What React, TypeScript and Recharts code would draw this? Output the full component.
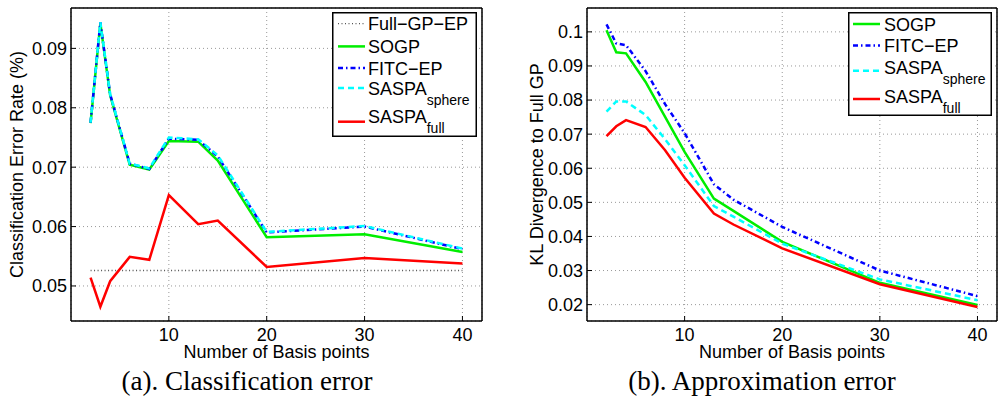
import React from 'react'
import { LineChart, Line, XAxis, YAxis, CartesianGrid, Legend } from 'recharts'

// x values (number of basis points)
const basisPoints = [2, 3, 4, 6, 8, 10, 13, 15, 20, 30, 40]
const xTicks = [10, 20, 30, 40]

// (a) classification error
const fullGpA = [0.0526, 0.0526, 0.0526, 0.0526, 0.0526, 0.0526, 0.0526, 0.0526, 0.0526, 0.0526, 0.0526]
const sogpA = [0.0774, 0.0942, 0.0821, 0.0704, 0.0696, 0.0744, 0.0743, 0.0711, 0.0582, 0.0587, 0.0557]
const fitcA = [0.0775, 0.0944, 0.0823, 0.0706, 0.0697, 0.0748, 0.0746, 0.0718, 0.059, 0.06, 0.0562]
const sphereA = [0.0775, 0.0944, 0.0823, 0.0706, 0.0698, 0.075, 0.0747, 0.072, 0.0591, 0.0601, 0.0563]
const saspaFullA = [0.0514, 0.0465, 0.0508, 0.0549, 0.0544, 0.0653, 0.0604, 0.061, 0.0532, 0.0547, 0.0538]
const yTicksA = [0.05, 0.06, 0.07, 0.08, 0.09]

// (b) approximation error
const sogpB = [0.1005, 0.094, 0.0937, 0.0853, 0.0751, 0.0648, 0.0511, 0.0475, 0.0384, 0.0264, 0.0199]
const fitcB = [0.1022, 0.0966, 0.0961, 0.0885, 0.0788, 0.0703, 0.0553, 0.0508, 0.0428, 0.03, 0.0225]
const sphereB = [0.0766, 0.0796, 0.0796, 0.0756, 0.0685, 0.0609, 0.0489, 0.0458, 0.0379, 0.0274, 0.0213]
const saspaFullB = [0.0694, 0.0723, 0.0741, 0.0721, 0.0653, 0.0572, 0.0467, 0.0435, 0.0365, 0.026, 0.0193]
const yTicksB = [0.02, 0.03, 0.04, 0.05, 0.06, 0.07, 0.08, 0.09, 0.1]

const dataA = basisPoints.map((x, i) => ({
  x,
  fullGp: fullGpA[i],
  sogp: sogpA[i],
  fitc: fitcA[i],
  sphere: sphereA[i],
  saspaFull: saspaFullA[i],
}))

const dataB = basisPoints.map((x, i) => ({
  x,
  sogp: sogpB[i],
  fitc: fitcB[i],
  sphere: sphereB[i],
  saspaFull: saspaFullB[i],
}))

const FONT = '"Liberation Sans", Arial, Helvetica, sans-serif'

type SeriesStyle = {
  key: string
  name: string
  sub?: string
  color: string
  dash?: string
  width: number
}

const STYLES: Record<string, SeriesStyle> = {
  fullGp: { key: 'fullGp', name: 'Full\u2212GP\u2212EP', color: '#555', dash: '1 2.5', width: 1.3 },
  sogp: { key: 'sogp', name: 'SOGP', color: '#00ee00', width: 2.5 },
  fitc: { key: 'fitc', name: 'FITC\u2212EP', color: '#0000ff', dash: '5 3 1.5 3', width: 2.5 },
  sphere: { key: 'sphere', name: 'SASPA', sub: 'sphere', color: '#00ffff', dash: '6 4', width: 2.5 },
  saspaFull: { key: 'saspaFull', name: 'SASPA', sub: 'full', color: '#ff0000', width: 2.5 },
}

type Row = { s: SeriesStyle; lineY: number; textY: number }

function LegendBox({ rows, width, height, lineX1, lineX2, textX }: {
  rows: Row[]; width: number; height: number; lineX1: number; lineX2: number; textX: number
}) {
  return (
    <svg width={width} height={height} style={{ display: 'block' }}>
      <rect x={0.75} y={0.75} width={width - 1.5} height={height - 1.5} fill="#fff" stroke="#000" strokeWidth={1.5} />
      {rows.map((r, i) => (
        <g key={i}>
          <line x1={lineX1} x2={lineX2} y1={r.lineY} y2={r.lineY} stroke={r.s.color}
            strokeWidth={r.s.width} strokeDasharray={r.s.dash} />
          <text x={textX} y={r.textY + 6.5} fontSize={18} fontFamily={FONT} fill="#000">
            {r.s.name}
            {r.s.sub && <tspan fontSize={14} dy={10}>{r.s.sub}</tspan>}
          </text>
        </g>
      ))}
    </svg>
  )
}

const fmt = (v: number) => String(Number(v.toFixed(2)))
const tickStyle = { fontSize: 18, fill: '#000', fontFamily: FONT }
const axisLineStyle = { stroke: '#000', strokeWidth: 1.5 }

function yLabel(text: string, x: number) {
  return {
    content: () => (
      <text x={x} y={164.5} transform={`rotate(-90 ${x} 164.5)`} textAnchor="middle"
        dominantBaseline="central" fontSize={18} fontFamily={FONT} fill="#000">{text}</text>
    ),
  }
}

function Panel({ data, series, yDomain, yTicks, yAxisWidth, marginRight, yLabelText, yLabelX, legendRows, legendBox, width }: any) {
  return (
    <LineChart width={width} height={361} data={data} margin={{ top: 8, right: marginRight, left: 0, bottom: 0 }}>
      <CartesianGrid stroke="#999" strokeDasharray="1 3" />
      <XAxis dataKey="x" type="number" domain={[0, 42]} ticks={xTicks} height={40}
        tickSize={-5} tickMargin={12} tick={tickStyle} axisLine={axisLineStyle}
        tickLine={{ stroke: '#000', strokeWidth: 1 }}
        label={{ value: 'Number of Basis points', position: 'insideBottom', offset: 3, fontSize: 18, fill: '#000', fontFamily: FONT }} />
      <XAxis xAxisId="top" dataKey="x" type="number" domain={[0, 42]} ticks={xTicks} orientation="top" mirror
        tick={false} tickSize={5} axisLine={axisLineStyle} tickLine={{ stroke: '#000', strokeWidth: 1 }} />
      <YAxis type="number" domain={yDomain} ticks={yTicks} width={yAxisWidth} tickSize={-5} tickMargin={9}
        tick={tickStyle} tickFormatter={fmt} axisLine={axisLineStyle} tickLine={{ stroke: '#000', strokeWidth: 1 }}
        label={yLabel(yLabelText, yLabelX)} />
      <YAxis yAxisId="right" type="number" domain={yDomain} ticks={yTicks} orientation="right" mirror
        tick={false} tickSize={5} axisLine={axisLineStyle} tickLine={{ stroke: '#000', strokeWidth: 1 }} />
      {series.map((s: SeriesStyle) => (
        <Line key={s.key} type="linear" dataKey={s.key} name={s.name} stroke={s.color} strokeWidth={s.width}
          strokeDasharray={s.dash} dot={false} activeDot={false} isAnimationActive={false} />
      ))}
      <Legend layout="vertical" align="center" verticalAlign="middle"
        wrapperStyle={{ left: legendBox.left, top: legendBox.top, width: legendBox.width, height: legendBox.height }}
        content={() => (
          <LegendBox rows={legendRows} width={legendBox.width} height={legendBox.height}
            lineX1={legendBox.lineX1} lineX2={legendBox.lineX2} textX={legendBox.textX} />
        )} />
    </LineChart>
  )
}

const captionStyle: React.CSSProperties = {
  position: 'absolute', top: 367, width: 500, textAlign: 'center',
  fontFamily: '"Liberation Serif", "Times New Roman", serif', fontSize: 27, lineHeight: '28px', color: '#000',
}

export default function App() {
  const seriesA = [STYLES.fullGp, STYLES.sogp, STYLES.fitc, STYLES.sphere, STYLES.saspaFull]
  const seriesB = [STYLES.sogp, STYLES.fitc, STYLES.sphere, STYLES.saspaFull]
  const rowsA: Row[] = [
    { s: STYLES.fullGp, lineY: 11.7, textY: 11.7 },
    { s: STYLES.sogp, lineY: 34.4, textY: 34.4 },
    { s: STYLES.fitc, lineY: 56, textY: 56 },
    { s: STYLES.sphere, lineY: 76, textY: 76.5 },
    { s: STYLES.saspaFull, lineY: 109.7, textY: 104.4 },
  ]
  const rowsB: Row[] = [
    { s: STYLES.sogp, lineY: 12, textY: 12 },
    { s: STYLES.fitc, lineY: 33.4, textY: 33.4 },
    { s: STYLES.sphere, lineY: 58.7, textY: 55.4 },
    { s: STYLES.saspaFull, lineY: 87, textY: 84.4 },
  ]
  return (
    <div style={{ position: 'absolute', left: 0, top: 0, width: 1001, height: 403, background: '#fff', fontFamily: FONT }}>
      <div style={{ position: 'absolute', left: 0, top: 0 }}>
        <Panel data={dataA} series={seriesA} yDomain={[0.0441, 0.0968]} yTicks={yTicksA} yAxisWidth={71}
          marginRight={18} width={500} yLabelText="Classification Error Rate (%)" yLabelX={17}
          legendRows={rowsA}
          legendBox={{ left: 332, top: 12, width: 145, height: 125, lineX1: 6, lineX2: 33, textX: 36 }} />
      </div>
      <div style={{ position: 'absolute', left: 500, top: 0 }}>
        <Panel data={dataB} series={seriesB} yDomain={[0.0152, 0.107]} yTicks={yTicksB} yAxisWidth={87}
          marginRight={4} width={501} yLabelText="KL Divergence to Full GP" yLabelX={37}
          legendRows={rowsB}
          legendBox={{ left: 348, top: 12, width: 144, height: 104, lineX1: 5, lineX2: 32, textX: 36 }} />
      </div>
      <div style={{ ...captionStyle, left: -3 }}>(a). Classification error</div>
      <div style={{ ...captionStyle, left: 512 }}>(b). Approximation error</div>
    </div>
  )
}
